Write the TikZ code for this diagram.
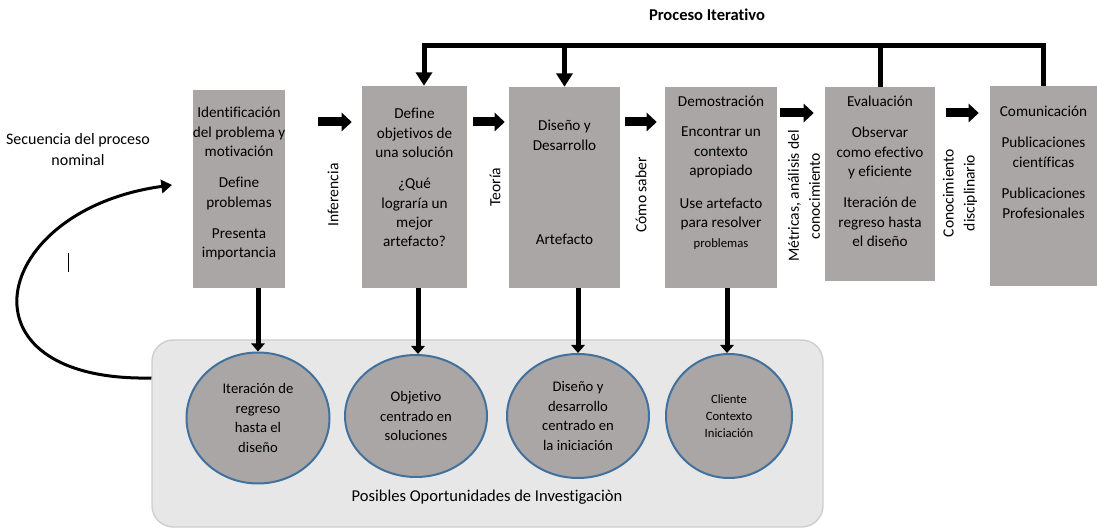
\documentclass[tikz,border=0pt]{standalone}
\usepackage{fontspec}
\setmainfont{Carlito}[Ligatures=NoCommon]
\usetikzlibrary{arrows.meta,shapes.geometric}
\definecolor{boxgray}{HTML}{A9A6A5}
\definecolor{ringblue}{HTML}{41719C}
\definecolor{panelgray}{HTML}{E7E7E7}
\definecolor{panelline}{HTML}{CDCDCD}

\begin{document}
\begin{tikzpicture}[x=0.75pt,y=-0.75pt,
  box/.style={fill=boxgray,inner sep=0pt},
  txt/.style={align=center,inner sep=0pt,font=\fontsize{11.4}{14.6}\selectfont},
  ring/.style={ellipse,draw=ringblue,line width=1.5pt,fill=boxgray,inner sep=0pt,align=center,font=\fontsize{11}{14.6}\selectfont},
  side/.style={rotate=90,align=center,inner sep=0pt,font=\fontsize{11.7}{15.75}\selectfont},
  fat/.style={line width=6.75pt,-{Triangle[width=13.5pt,length=7.5pt]}},
  feed/.style={line width=3.75pt},
  feeddown/.style={feed,-{Triangle[width=12pt,length=10pt]}},
  drop/.style={line width=3.75pt,-{Triangle[width=10pt,length=6pt]}}]
  \useasboundingbox (0,0) rectangle (1097,530);

  \node[font=\bfseries\fontsize{12.4}{14}\selectfont] (title) at (707,15) {Proceso Iterativo};

  \node[box,minimum width=69pt,minimum height=148.5pt] (b1) at (239,189) {};
  \node[box,minimum width=78.75pt,minimum height=151.5pt] (b2) at (414.5,187) {};
  \node[box,minimum width=83.25pt,minimum height=150.75pt] (b3) at (564.5,187.5) {};
  \node[box,minimum width=84pt,minimum height=150.75pt] (b4) at (721,187.5) {};
  \node[box,minimum width=82.5pt,minimum height=145.5pt] (b5) at (880,184) {};
  \node[box,minimum width=80.25pt,minimum height=150pt] (b6) at (1043.5,186) {};

  \node[txt,anchor=north] (t1) at (239,107) {Identificación\\del problema y\\motivación\\[8.6pt]Define\\problemas\\[8.6pt]Presenta\\importancia};
  \node[txt,anchor=north] (t2) at (414.5,108) {Define\\objetivos de\\una solución\\[8.6pt]¿Qué\\lograría un\\mejor\\artefacto?};
  \node[txt,anchor=north] (t3) at (564.5,120) {Diseño y\\Desarrollo};
  \node[txt] (t3b) at (564.5,239) {Artefacto};
  \node[txt,anchor=north] (t4) at (721,96) {Demostración\\[7.9pt]Encontrar un\\contexto\\apropiado\\[10pt]Use artefacto\\para resolver\\{\fontsize{9.5}{11}\selectfont problemas}};
  \node[txt,anchor=north] (t5) at (880,96) {Evaluación\\[8.6pt]Observar\\como efectivo\\y eficiente\\[8.6pt]Iteración de\\regreso hasta\\el diseño};
  \node[txt,anchor=north] (t6) at (1043.5,106) {Comunicación\\[8.6pt]Publicaciones\\científicas\\[9pt]Publicaciones\\Profesionales};

  \node[side] (l1) at (333,195) {Inferencia};
  \node[side] (l2) at (495,187) {Teoría};
  \node[side] (l3) at (641,195) {Cómo saber};
  \node[side] (l4) at (804,196) {Métricas, análisis del\\conocimiento};
  \node[side] (l5) at (960,193) {Conocimiento\\disciplinario};

  \draw[fat,shorten <=24.75pt,shorten >=7.5pt] (b1.east|-0,122) -- (b2.west|-0,122);
  \draw[fat,shorten <=4.5pt,shorten >=3pt] (b2.east|-0,122) -- (b3.west|-0,122);
  \draw[fat,shorten <=3.75pt,shorten >=6pt] (b3.east|-0,122) -- (b4.west|-0,122);
  \draw[fat,shorten <=2.25pt,shorten >=8.25pt] (b4.east|-0,113) -- (b5.west|-0,113);
  \draw[fat,shorten <=8.25pt,shorten >=8.25pt] (b5.east|-0,113) -- (b6.west|-0,113);

  \coordinate (fb) at (424,46);
  \draw[feeddown] (b5.north) |- (fb) -- (fb|-b2.north);
  \draw[feed] (b6.north) |- (b5.north|-fb);
  \draw[feeddown] (b3.north|-fb) -- (b3.north);

  \node[draw=panelline,fill=panelgray,line width=1pt,rounded corners=16pt,minimum width=503.25pt,minimum height=140.25pt,inner sep=0pt] (opp) at (487.5,433.5) {};
  \node[txt,font=\fontsize{12.4}{14}\selectfont] (optxt) at (487,497) {Posibles Oportunidades de Investigaciòn};

  \node[ring,minimum width=107.25pt,minimum height=98.25pt] (c1) at (258,418) {Iteración de\\regreso\\hasta el\\diseño};
  \node[ring,minimum width=106.5pt,minimum height=91.5pt] (c2) at (416,416) {Objetivo\\centrado en\\soluciones};
  \node[ring,minimum width=106.5pt,minimum height=93pt] (c3) at (578,416) {Diseño y\\desarrollo\\centrado en\\la iniciación};
  \node[ring,minimum width=94.5pt,minimum height=93pt,font=\fontsize{9.5}{13}\selectfont] (c4) at (729,416) {Cliente\\Contexto\\Iniciación};

  \draw[drop] (c1.north|-b1.south) -- (c1.north);
  \draw[drop] (418,0|-b2.south) -- (418,0|-c2.north);
  \draw[drop] (c3.north|-b3.south) -- (c3.north);
  \draw[drop] (727,0|-b4.south) -- (727,0|-c4.north);

  \node[txt,font=\fontsize{12}{15.75}\selectfont] (seq) at (78,150) {Secuencia del proceso\\nominal};
  \coordinate (seqend) at (172,185);
  \draw[line width=2.25pt,-{Triangle[width=10pt,length=8pt]}] (opp.west|-0,378) .. controls (-48,382) and (-10,210) .. (seqend);
  \draw[line width=0.6pt] (68,253) -- (68,272);
\end{tikzpicture}
\end{document}
